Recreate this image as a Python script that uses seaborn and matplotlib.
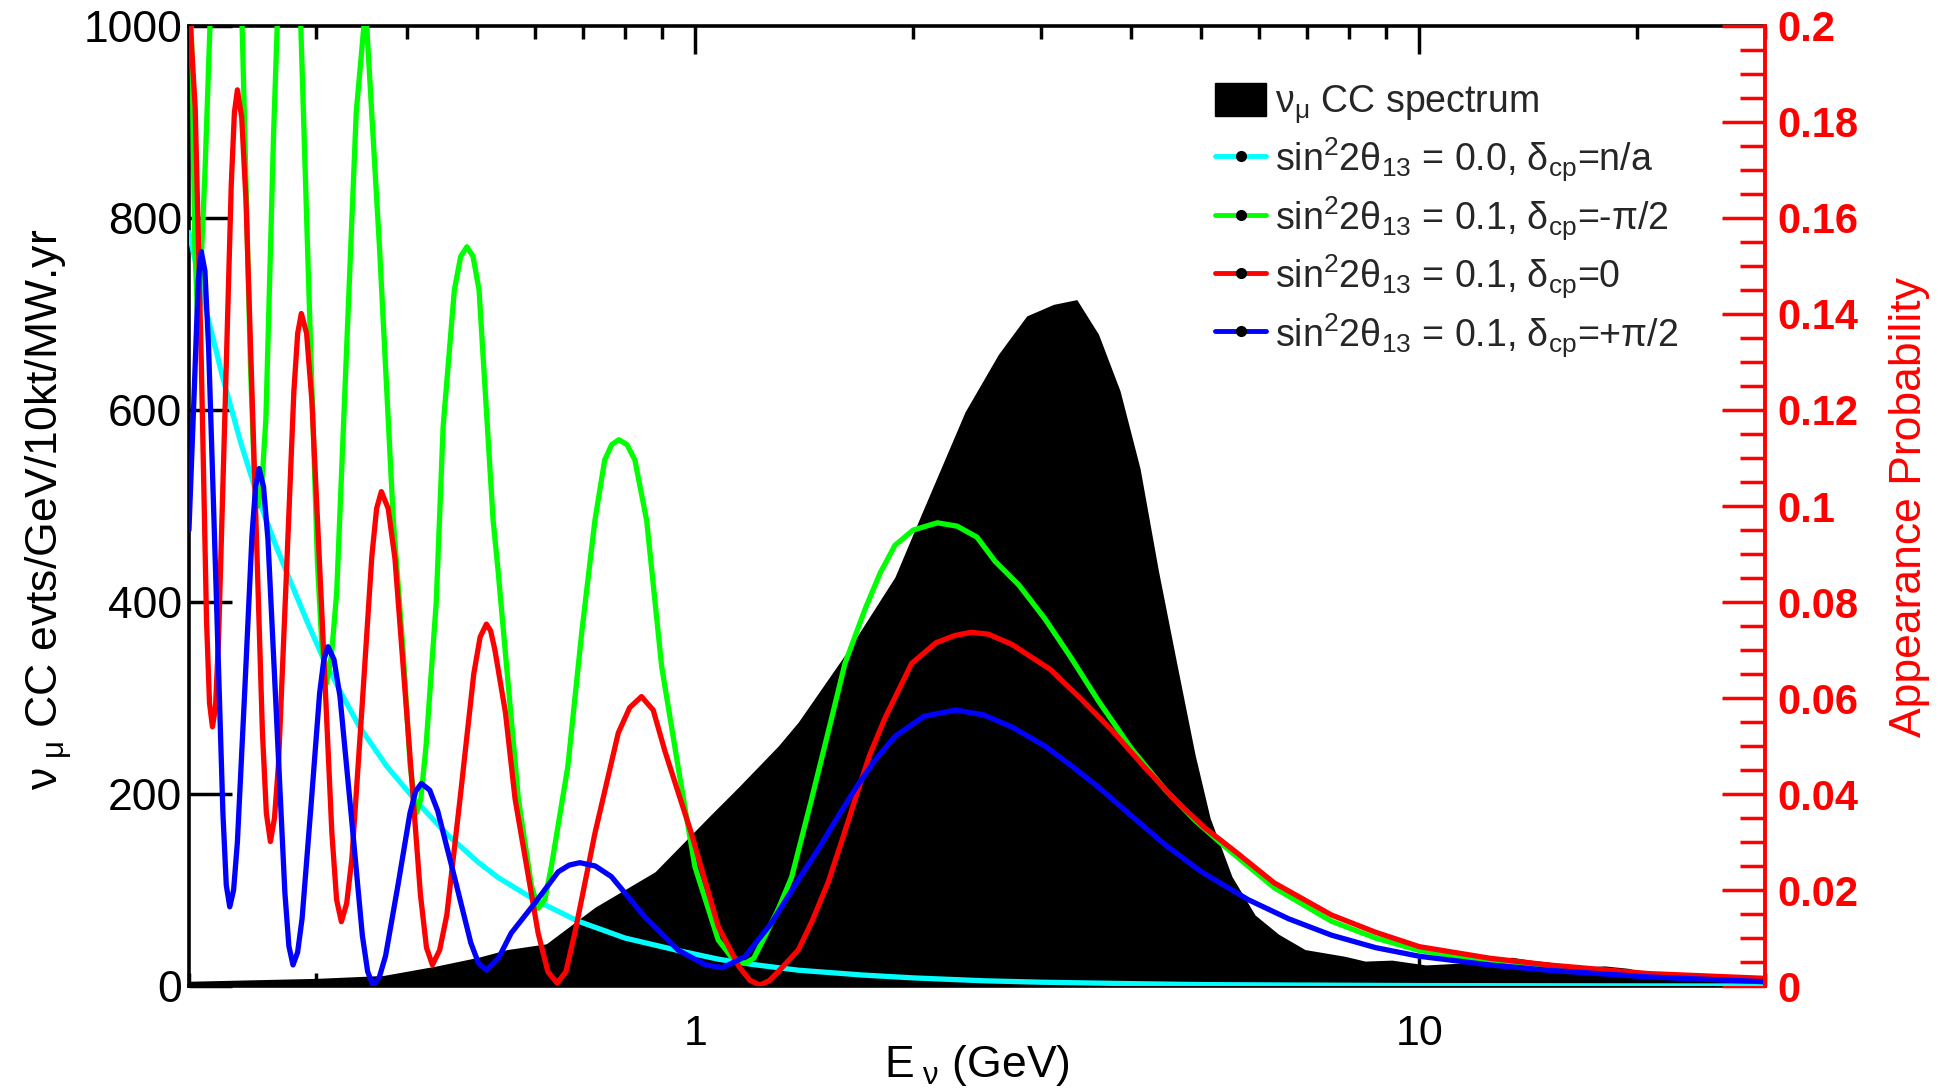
import matplotlib
matplotlib.use("Agg")
import matplotlib.pyplot as plt
import seaborn as sns
from matplotlib.ticker import LogLocator, NullFormatter, NullLocator, MultipleLocator
from matplotlib.patches import Patch
from matplotlib.lines import Line2D

# nu_mu CC spectrum (left axis, evts/GeV/10kt/MW.yr)
spec_e = [0.200, 0.300, 0.371, 0.440, 0.502, 0.550, 0.623, 0.727, 0.880, 1.053,
          1.147, 1.302, 1.388, 1.627, 1.887, 2.054, 2.358, 2.622, 2.869, 3.123,
          3.364, 3.604, 3.860, 4.114, 4.360, 4.620, 4.900, 5.140, 5.510, 5.930,
          6.390, 6.950, 7.890, 8.410, 9.160, 10.20, 11.50, 12.50, 13.40, 14.20,
          15.06, 16.00, 17.10, 18.00, 19.40, 20.70, 23.00, 26.00, 30.00]
spec_n = [5, 8, 11, 21, 30, 38, 44, 82, 119, 179,
          207, 250, 275, 350, 426, 492, 598, 658, 698, 710,
          715, 679, 620, 539, 433, 337, 241, 175, 114, 74,
          54, 38, 31, 26, 27, 22, 24, 26, 30, 27,
          25, 22, 20, 21, 18.5, 13.5, 10.4, 8, 6]

# appearance probability, sin^2 2theta13 = 0
cyan_e = [0.200, 0.211, 0.2229, 0.236, 0.250, 0.264, 0.2784, 0.292, 0.306, 0.325,
          0.344, 0.375, 0.412, 0.455, 0.5016, 0.5345, 0.600, 0.6896, 0.800, 0.947,
          1.076, 1.200, 1.388, 1.700, 2.000, 2.500, 3.000, 4.000, 5.000, 7.000,
          10.00, 30.00]
cyan_p = [0.157, 0.141, 0.1265, 0.113, 0.101, 0.0915, 0.083, 0.0755, 0.0685, 0.0608,
          0.054, 0.0458, 0.0385, 0.0315, 0.0258, 0.0226, 0.0180, 0.0135, 0.0100, 0.0074,
          0.0056, 0.0045, 0.0033, 0.0023, 0.0017, 0.0011, 0.0008, 0.0005, 0.0003, 0.0002,
          0.0001, 0.0]

# sin^2 2theta13 = 0.1, delta_cp = -pi/2
green_e = [0.200, 0.2019, 0.2037, 0.2055, 0.2075, 0.2105, 0.2155, 0.2205, 0.2255, 0.2314,
           0.2373, 0.2431, 0.2460, 0.2490, 0.2520, 0.2554, 0.2618, 0.2682, 0.2746, 0.2834,
           0.2921, 0.3009, 0.3052, 0.3096, 0.3147, 0.3199, 0.3302, 0.3404, 0.3507, 0.3668,
           0.3830, 0.3950, 0.4040, 0.4120, 0.4180, 0.4250, 0.4390, 0.4487, 0.4650, 0.4745,
           0.4840, 0.4935, 0.5030, 0.5260, 0.5340, 0.5700, 0.5940, 0.6070, 0.6200, 0.6330,
           0.6670, 0.6970, 0.7270, 0.7500, 0.7670, 0.7845, 0.8050, 0.8255, 0.8570, 0.8990,
           0.9470, 0.9990, 1.0760, 1.1200, 1.1710, 1.2050, 1.2400, 1.3020, 1.3590, 1.4470,
           1.5430, 1.6100, 1.7160, 1.8000, 1.8870, 2.0000, 2.1600, 2.3000, 2.4500, 2.5940,
           2.8000, 3.0400, 3.3000, 3.6000, 4.0000, 4.4500, 4.9000, 5.3900, 6.3000, 7.5600,
           8.7000, 10.000, 12.500, 15.000, 20.700, 30.000]
green_p = [0.212, 0.195, 0.155, 0.140, 0.148, 0.170, 0.215, 0.262, 0.280, 0.255,
           0.195, 0.130, 0.108, 0.100, 0.104, 0.118, 0.178, 0.225, 0.245, 0.215,
           0.150, 0.088, 0.071, 0.063, 0.069, 0.082, 0.133, 0.182, 0.204, 0.153,
           0.097, 0.070, 0.046, 0.036, 0.039, 0.050, 0.080, 0.1165, 0.145, 0.152,
           0.154, 0.152, 0.145, 0.097, 0.087, 0.039, 0.021, 0.0162, 0.018, 0.0249,
           0.0457, 0.0735, 0.097, 0.1096, 0.1128, 0.1138, 0.1128, 0.1096, 0.097, 0.0665,
           0.0457, 0.0249, 0.0096, 0.0062, 0.0047, 0.0058, 0.0095, 0.0160, 0.0227, 0.0388,
           0.0558, 0.0672, 0.0785, 0.0860, 0.0918, 0.0950, 0.0965, 0.0958, 0.0935, 0.0885,
           0.0835, 0.0765, 0.0685, 0.0595, 0.0495, 0.0410, 0.0345, 0.0290, 0.0205, 0.0135,
           0.0100, 0.0074, 0.0052, 0.0040, 0.0023, 0.0013]

# sin^2 2theta13 = 0.1, delta_cp = 0
red_e = [0.2000, 0.2040, 0.2080, 0.2115, 0.2135, 0.2155, 0.2176, 0.2198, 0.2243, 0.2288,
         0.2311, 0.2333, 0.2365, 0.2397, 0.2462, 0.2526, 0.2558, 0.2591, 0.2625, 0.2658,
         0.2725, 0.2792, 0.2826, 0.2859, 0.2907, 0.2956, 0.3053, 0.3150, 0.3198, 0.3247,
         0.3302, 0.3357, 0.3467, 0.3577, 0.3632, 0.3687, 0.3768, 0.3850, 0.4010, 0.4175,
         0.4256, 0.4337, 0.4438, 0.4540, 0.4743, 0.4946, 0.5047, 0.5149, 0.5219, 0.5290,
         0.5470, 0.5640, 0.6070, 0.6260, 0.6448, 0.6630, 0.6820, 0.7270, 0.7830, 0.8120,
         0.8430, 0.8750, 0.9080, 0.9880, 1.0760, 1.1500, 1.1900, 1.2280, 1.2650, 1.3020,
         1.3880, 1.4500, 1.5270, 1.6000, 1.6620, 1.7400, 1.8280, 1.9900, 2.1500, 2.2800,
         2.4030, 2.5400, 2.7350, 3.0900, 3.4000, 3.7600, 4.1500, 4.5800, 5.0500, 5.5700,
         6.3000, 7.5600, 8.7000, 10.000, 12.500, 15.060, 20.700, 30.000]
red_p = [0.205, 0.183, 0.130, 0.076, 0.059, 0.054, 0.058, 0.073, 0.120, 0.167,
         0.182, 0.1867, 0.181, 0.164, 0.108, 0.053, 0.036, 0.0301, 0.035, 0.046,
         0.085, 0.124, 0.136, 0.1401, 0.136, 0.122, 0.077, 0.032, 0.018, 0.0134,
         0.0172, 0.0265, 0.058, 0.0895, 0.0995, 0.103, 0.0995, 0.089, 0.054, 0.019,
         0.0080, 0.0044, 0.0075, 0.0148, 0.040, 0.065, 0.0727, 0.0754, 0.0740, 0.070,
         0.057, 0.039, 0.011, 0.003, 0.0006, 0.003, 0.011, 0.0318, 0.0527, 0.058,
         0.0603, 0.0575, 0.049, 0.0318, 0.0124, 0.004, 0.0012, 0.0002, 0.0011, 0.0030,
         0.0075, 0.0135, 0.0217, 0.0310, 0.0388, 0.0480, 0.0558, 0.0672, 0.0715, 0.0730,
         0.0737, 0.0733, 0.0712, 0.0660, 0.0600, 0.0533, 0.0460, 0.0390, 0.0330, 0.0280,
         0.0215, 0.0148, 0.0112, 0.0082, 0.0058, 0.0044, 0.0026, 0.0016]

# sin^2 2theta13 = 0.1, delta_cp = +pi/2
blue_e = [0.200, 0.2035, 0.2060, 0.2080, 0.2104, 0.2129, 0.2178, 0.2228, 0.2252, 0.2277,
          0.2305, 0.2333, 0.2389, 0.2444, 0.2472, 0.2500, 0.2535, 0.2571, 0.2642, 0.2713,
          0.2748, 0.2784, 0.2825, 0.2866, 0.2948, 0.3030, 0.3071, 0.3112, 0.3172, 0.3232,
          0.3351, 0.3471, 0.3530, 0.3590, 0.3663, 0.3737, 0.3889, 0.4038, 0.4113, 0.4188,
          0.4300, 0.4410, 0.4650, 0.4900, 0.5020, 0.5150, 0.5350, 0.5570, 0.6000, 0.6470,
          0.6700, 0.6930, 0.7280, 0.7660, 0.8520, 0.9470, 1.0300, 1.0900, 1.1710, 1.2740,
          1.3880, 1.4790, 1.5700, 1.6620, 1.7700, 1.8870, 2.0700, 2.2900, 2.5000, 2.7350,
          3.0400, 3.3000, 3.6000, 4.0000, 4.4500, 5.0000, 5.8000, 6.6000, 7.5600, 8.7000,
          10.000, 12.500, 15.060, 20.700, 30.000]
blue_p = [0.095, 0.125, 0.147, 0.153, 0.149, 0.133, 0.085, 0.036, 0.021, 0.0165,
          0.020, 0.030, 0.062, 0.094, 0.104, 0.1078, 0.104, 0.093, 0.056, 0.0195,
          0.0083, 0.0044, 0.0070, 0.0141, 0.0375, 0.061, 0.068, 0.0707, 0.068, 0.0604,
          0.0355, 0.0105, 0.003, 0.0002, 0.0018, 0.0063, 0.0212, 0.036, 0.0406, 0.0422,
          0.0408, 0.0365, 0.0228, 0.0090, 0.0048, 0.0033, 0.0058, 0.0110, 0.0172, 0.0238,
          0.0252, 0.0257, 0.0250, 0.0228, 0.0144, 0.0075, 0.0045, 0.0038, 0.0061, 0.0131,
          0.0221, 0.0285, 0.0350, 0.0410, 0.0470, 0.0520, 0.0562, 0.0575, 0.0565, 0.0540,
          0.0500, 0.0460, 0.0415, 0.0355, 0.0295, 0.0238, 0.0180, 0.0140, 0.0106, 0.0080,
          0.0062, 0.0044, 0.0033, 0.0019, 0.0009]

left_ticks = [0, 200, 400, 600, 800, 1000]
prob_ticks = [0, 0.02, 0.04, 0.06, 0.08, 0.1, 0.12, 0.14, 0.16, 0.18, 0.2]
prob_labels = ["0", "0.02", "0.04", "0.06", "0.08", "0.1", "0.12", "0.14", "0.16", "0.18", "0.2"]
x_ticks = [1, 10]
x_labels = ["1", "10"]

legend_labels = [
    r"ν$_{μ}$ CC spectrum",
    r"sin$^{2}$2θ$_{13}$ = 0.0, δ$_{cp}$=n/a",
    r"sin$^{2}$2θ$_{13}$ = 0.1, δ$_{cp}$=-π/2",
    r"sin$^{2}$2θ$_{13}$ = 0.1, δ$_{cp}$=0",
    r"sin$^{2}$2θ$_{13}$ = 0.1, δ$_{cp}$=+π/2",
]
curve_colors = ["#00ffff", "#00ff00", "#ff0000", "#0000ff"]

sns.set_theme(style="white")
plt.rcParams["font.family"] = ["Liberation Sans", "DejaVu Sans"]
plt.rcParams["mathtext.fontset"] = "custom"
plt.rcParams["mathtext.rm"] = "Liberation Sans"
plt.rcParams["mathtext.it"] = "Liberation Sans"
plt.rcParams["mathtext.default"] = "regular"

fig, ax = plt.subplots(figsize=(19.4, 10.91), dpi=100)
fig.subplots_adjust(left=0.0974, right=0.9098, bottom=0.0962, top=0.9762)

# spectrum
ax.fill_between(spec_e, spec_n, 0, color="black", lw=0)
ax.set_xscale("log")
ax.set_xlim(0.2, 30)
ax.set_ylim(0, 1000)

# probability curves on the right axis
ax2 = ax.twinx()
curves = [(cyan_e, cyan_p), (green_e, green_p), (red_e, red_p), (blue_e, blue_p)]
for (e, p), c in zip(curves, curve_colors):
    sns.lineplot(x=e, y=p, ax=ax2, color=c, linewidth=3.8, estimator=None, legend=False)
ax2.set_ylim(0, 0.2)

# spines
for s in ["top", "bottom", "left"]:
    ax.spines[s].set_color("black")
    ax.spines[s].set_linewidth(2.6)
ax.spines["right"].set_visible(False)
for s in ["top", "bottom", "left"]:
    ax2.spines[s].set_visible(False)
ax2.spines["right"].set_color("red")
ax2.spines["right"].set_linewidth(2.8)

# x ticks
ax.set_xticks(x_ticks, labels=x_labels)
ax.xaxis.set_minor_locator(LogLocator(base=10, subs=range(2, 10)))
ax.xaxis.set_minor_formatter(NullFormatter())
ax.tick_params(axis="x", which="both", direction="in", top=True, bottom=True,
               colors="black", width=2.5, labelsize=31, pad=20)
ax.tick_params(axis="x", which="major", length=20)
ax.tick_params(axis="x", which="minor", length=9.5)

# left y ticks
ax.set_yticks(left_ticks)
ax.yaxis.set_minor_locator(NullLocator())
ax.tick_params(axis="y", which="major", direction="in", left=True, right=False,
               colors="black", length=31, width=2.5, labelsize=32, pad=5)

# right y ticks
ax2.set_yticks(prob_ticks, labels=prob_labels, fontweight="bold")
ax2.yaxis.set_minor_locator(MultipleLocator(0.005))
ax2.tick_params(axis="y", which="both", direction="in", colors="red", width=2.5,
                labelsize=30, pad=9)
ax2.tick_params(axis="y", which="major", length=31)
ax2.tick_params(axis="y", which="minor", length=18)

# labels
ax.set_xlabel(r"E$_{\ ν}$ (GeV)", fontsize=32, color="black")
ax.xaxis.set_label_coords(0.5, -0.059)
ax.set_ylabel(r"ν$_{\ μ}$ CC evts/GeV/10kt/MW.yr", fontsize=32, color="black")
ax.yaxis.set_label_coords(-0.072, 0.496)
ax2.set_ylabel("Appearance Probability", fontsize=32, color="red")
ax2.yaxis.set_label_coords(1.0787, 0.499)

# legend
handles = [Patch(facecolor="black", edgecolor="black")]
for c in curve_colors:
    handles.append(Line2D([], [], color=c, lw=3.5, marker="o", ms=7,
                          mfc="black", mec="black"))
ax2.legend(handles, legend_labels, loc="upper left", bbox_to_anchor=(0.6263, 0.924),
           bbox_transform=fig.transFigure, frameon=False, fontsize=27,
           handlelength=1.36, handleheight=1.0, handletextpad=0.25,
           labelspacing=0.27, borderpad=0, borderaxespad=0)

fig.savefig("out.png", dpi=100)
